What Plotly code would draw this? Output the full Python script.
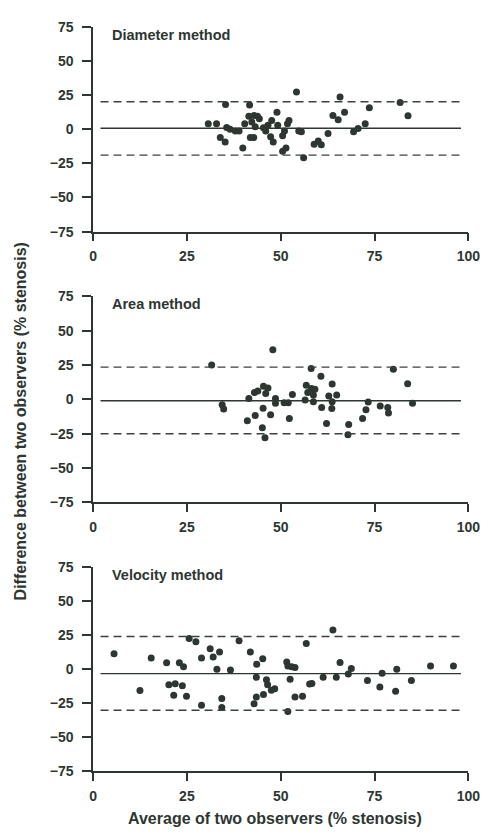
import plotly.graph_objects as go

# ---- data ----
panel_titles = ["Diameter method", "Area method", "Velocity method"]

diam_x = [30.7, 32.9, 33.9, 35.2, 35.3, 35.6, 36.5, 37.9, 38.9, 39.9, 40.4, 41.7, 41.5, 42.9,
          41.9, 42.8, 42.3, 43.2, 44.3, 45.4, 46.0, 46.6, 47.3, 47.6, 48.0, 49.0, 49.2, 50.5,
          51.0, 50.5, 51.4, 51.8, 52.2, 54.2, 54.8, 55.5, 56.1, 58.9, 60.0, 60.8, 62.6, 63.9,
          65.3, 65.8, 67.0, 69.4, 70.6, 72.5, 73.6, 81.8, 83.9, 43.8]
diam_y = [4.0, 4.0, -6.2, -9.5, 18.0, 1.2, 0.0, -1.4, -1.4, -13.8, 4.0, 17.6, 9.5, 10.0,
          -6.2, -6.2, 5.2, 1.7, 7.6, 1.0, -1.4, 2.9, -5.5, 6.4, -9.5, 12.4, 2.9, -4.8,
          -1.4, -16.2, -13.8, 4.0, 6.4, 27.1, -1.4, -1.9, -21.0, -11.0, -8.6, -11.4, -3.1, 10.0,
          6.9, 23.6, 12.4, -1.9, 0.5, 4.0, 15.7, 19.5, 9.8, 9.5]
diam_mean, diam_upper, diam_lower = 0.7, 20.0, -19.0

area_x = [31.6, 34.4, 34.8, 41.5, 41.1, 43.0, 43.9, 43.2, 45.1, 45.3, 45.4, 46.0, 46.6, 45.8,
          47.3, 47.9, 48.6, 48.6, 50.9, 52.0, 52.3, 53.1, 56.5, 56.8, 57.2, 58.1, 58.2, 58.7,
          59.1, 58.7, 60.7, 60.9, 62.2, 62.8, 63.7, 63.7, 63.6, 64.9, 67.9, 68.1, 71.8, 72.7,
          73.3, 76.5, 78.5, 78.7, 80.0, 83.8, 85.1]
area_y = [25.0, -4.0, -7.1, 0.7, -15.5, 5.0, 6.0, -11.7, -20.7, -6.4, 9.5, 4.3, 8.3, -28.0,
          -11.2, 36.2, 0.7, -2.9, -2.4, -2.4, -14.0, 3.6, -0.5, 10.2, 5.0, 22.4, 7.9, 3.1,
          7.4, -1.7, 16.9, -6.0, -17.6, 2.4, 11.2, -1.7, -6.7, 3.1, -25.7, -18.3, -14.0, -7.6,
          -1.9, -4.8, -6.0, -10.0, 21.9, 11.4, -2.9]
area_mean, area_upper, area_lower = -1.0, 23.5, -25.0

vel_x = [5.6, 12.5, 15.5, 19.6, 20.2, 21.9, 21.5, 23.0, 24.1, 23.8, 24.9, 25.6, 27.4, 28.9,
         28.9, 31.2, 32.0, 33.0, 33.7, 34.3, 34.3, 36.6, 38.9, 41.9, 42.9, 43.5, 43.6, 43.5,
         45.2, 45.4, 46.2, 46.5, 47.5, 48.4, 51.6, 51.9, 52.9, 53.8, 51.9, 52.5, 53.8, 55.8,
         56.8, 57.7, 58.3, 61.3, 63.9, 64.8, 65.8, 68.0, 68.8, 73.1, 76.4, 77.0, 80.6, 80.9,
         84.8, 89.9, 96.0]
vel_y = [11.3, -15.8, 8.2, 4.6, -11.5, -10.8, -19.2, 4.6, 1.7, -12.2, -19.9, 22.5, 20.1, 8.2,
         -26.6, 14.9, 8.9, -0.2, 12.5, -21.6, -28.3, -0.7, 20.9, 12.5, -25.4, -20.6, 3.6, -6.0,
         7.7, -18.7, -7.9, -11.5, -15.6, -14.4, 5.3, 2.2, 1.7, 1.2, -31.2, -7.4, -20.6, -19.9,
         18.9, -11.0, -10.6, -6.0, 28.8, -6.0, 4.8, -3.6, 0.5, -8.4, -13.2, -3.1, -16.3, -0.2,
         -8.4, 2.2, 2.2]
vel_mean, vel_upper, vel_lower = -3.3, 24.0, -30.3

line_x = [2, 98]
x_ticks = [0, 25, 50, 75, 100]
y_ticks = [-75, -50, -25, 0, 25, 50, 75]

panels = [
    (diam_x, diam_y, diam_mean, diam_upper, diam_lower),
    (area_x, area_y, area_mean, area_upper, area_lower),
    (vel_x, vel_y, vel_mean, vel_upper, vel_lower),
]

W, H = 494, 836
x_dom = [92 / W, 480 / W]
y_doms = [
    [1 - 228 / H, 1 - 19 / H],
    [1 - 504 / H, 1 - 294 / H],
    [1 - 778 / H, 1 - 570 / H],
]

INK = "#2e3631"
FONT = "Liberation Sans, Arial, sans-serif"

fig = go.Figure()
layout = dict(
    width=W, height=H,
    margin=dict(l=0, r=0, t=0, b=0),
    paper_bgcolor="white", plot_bgcolor="white",
    showlegend=False,
    font=dict(family=FONT, color=INK),
)

for i, (px, py, m, up, lo) in enumerate(panels):
    n = i + 1
    xa = "x" if n == 1 else f"x{n}"
    ya = "y" if n == 1 else f"y{n}"
    fig.add_trace(go.Scatter(x=px, y=py, mode="markers", xaxis=xa, yaxis=ya,
                             marker=dict(size=7, color=INK)))
    fig.add_trace(go.Scatter(x=line_x, y=[m, m], mode="lines", xaxis=xa, yaxis=ya,
                             line=dict(color=INK, width=1.4)))
    for v in (up, lo):
        fig.add_trace(go.Scatter(x=line_x, y=[v, v], mode="lines", xaxis=xa, yaxis=ya,
                                 line=dict(color="#3a423d", width=1.4, dash="8px,5px")))
    xkey = "xaxis" if n == 1 else f"xaxis{n}"
    ykey = "yaxis" if n == 1 else f"yaxis{n}"
    layout[xkey] = dict(
        domain=x_dom, anchor=ya, range=[0, 100], tickvals=x_ticks,
        showgrid=False, zeroline=False, showline=True, linecolor=INK, linewidth=1.5,
        ticks="outside", ticklen=8, tickwidth=1.5, tickcolor=INK,
        tickfont=dict(size=14, family=FONT, color=INK, weight="bold"),
        ticklabelstandoff=3,
    )
    layout[ykey] = dict(
        domain=y_doms[i], anchor=xa, range=[-75, 75], tickvals=y_ticks,
        showgrid=False, zeroline=False, showline=True, linecolor=INK, linewidth=1.5,
        ticks="outside", ticklen=9, tickwidth=1.5, tickcolor=INK,
        tickfont=dict(size=14, family=FONT, color=INK, weight="bold"),
        ticklabelstandoff=6,
    )

fig.update_layout(**layout)

title_y = [19, 294, 570]
for i, t in enumerate(panel_titles):
    fig.add_annotation(text=t, xref="paper", yref="paper",
                       x=110 / W, y=1 - (title_y[i] - 2) / H,
                       xanchor="left", yanchor="top", showarrow=False,
                       font=dict(size=14.5, family=FONT, color=INK, weight="bold"))

fig.add_annotation(text="Difference between two observers (% stenosis)",
                   xref="paper", yref="paper", x=17 / W, y=1 - 421 / H,
                   textangle=-90, showarrow=False, xanchor="center", yanchor="middle",
                   font=dict(size=16, family=FONT, color=INK, weight="bold"))
fig.add_annotation(text="Average of two observers (% stenosis)",
                   xref="paper", yref="paper", x=280 / W, y=1 - 826 / H,
                   showarrow=False, xanchor="center", yanchor="middle",
                   font=dict(size=16, family=FONT, color=INK, weight="bold"))

fig.write_html("out.html")
